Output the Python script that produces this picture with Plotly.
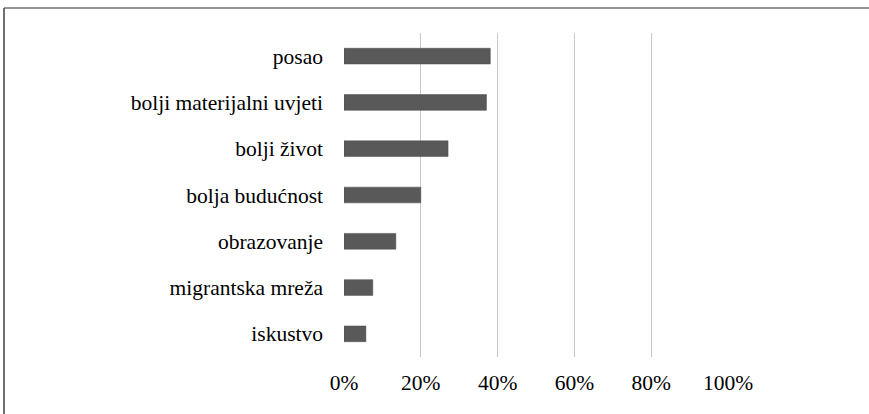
import plotly.graph_objects as go

categories = ["posao", "bolji materijalni uvjeti", "bolji život", "bolja budućnost",
              "obrazovanje", "migrantska mreža", "iskustvo"]
values = [0.381, 0.371, 0.271, 0.200, 0.135, 0.075, 0.057]
tick_vals = [0, 0.2, 0.4, 0.6, 0.8, 1.0]
tick_text = ["0%", "20%", "40%", "60%", "80%", "100%"]

W, H = 869, 414
L, R, T, B = 344, 141, 33, 57
pw, ph = W - L - R, H - T - B

def px(x):
    return (x - L) / pw

def py(y):
    return (H - B - y) / ph

FONT = "Liberation Serif, Times New Roman, serif"
FS = 21.5

fig = go.Figure(go.Bar(
    x=values, y=categories, orientation="h",
    marker=dict(color="#595959", line=dict(color="#4a4a4a", width=0.5)),
))

fig.update_layout(
    width=W, height=H,
    margin=dict(l=L, r=R, t=T, b=B, autoexpand=False),
    paper_bgcolor="white", plot_bgcolor="white",
    bargap=0.66,
    showlegend=False,
    font=dict(family=FONT, size=FS, color="#000000"),
    xaxis=dict(range=[0, 1], tickvals=tick_vals, ticktext=tick_text,
               showgrid=True, gridcolor="#c8c8c8", gridwidth=1.3,
               zeroline=False, showline=False, ticks="", ticklabelstandoff=10,
               tickfont=dict(family=FONT, size=FS), fixedrange=True),
    yaxis=dict(categoryorder="array", categoryarray=categories[::-1],
               showgrid=False, zeroline=False, showline=False, ticks="",
               ticklabelstandoff=20, tickfont=dict(family=FONT, size=FS),
               fixedrange=True),
    shapes=[
        dict(type="line", xref="paper", yref="paper",
             x0=px(4), x1=px(W + 5), y0=py(8), y1=py(8),
             line=dict(color="#707070", width=1.5)),
        dict(type="line", xref="paper", yref="paper",
             x0=px(4), x1=px(4), y0=py(8), y1=py(H + 5),
             line=dict(color="#404040", width=1.5)),
    ],
)

fig.write_html("out.html", config={"displayModeBar": False},
               post_script="document.body.style.margin='0';document.body.style.overflow='hidden';")
